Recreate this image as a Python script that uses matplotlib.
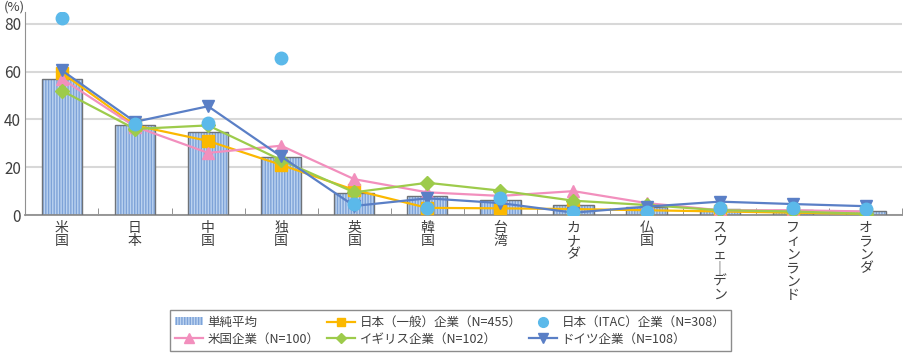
import matplotlib.pyplot as plt
import numpy as np
from matplotlib.patches import Patch
from matplotlib.lines import Line2D

plt.rcParams['font.family'] = ['Noto Sans CJK JP', 'DejaVu Sans']

# countries (drawn vertically, one character per line)
countries = ["米国", "日本", "中国", "独国", "英国", "韓国", "台湾", "カナダ", "仏国",
             "スウェーデン", "フィンランド", "オランダ"]

# simple average (bars)
avg = [57, 37.5, 34.7, 24.3, 9.2, 8.0, 6.3, 4.2, 3.3, 2.5, 2.3, 1.7]

# company surveys (%)
jp_general = [59.5, 37.5, 31, 21, 10.5, 3, 2.8, 2.5, 2, 1.5, 1, 0.5]
jp_itac = [82.5, 38, 38.5, 65.5, 4.6, 3, 7.3, 1.2, 1.2, 3, 3, 2.5]
us = [57, 37, 26, 29, 15, 9.5, 8, 10, 5, 2, 2, 1.5]
uk = [52, 36, 37.5, 23, 9.5, 13.5, 10.2, 6, 4.2, 2, 1.5, 0.5]
de = [60.5, 39, 45.5, 24.5, 3.8, 7, 5, 1, 3.5, 5.6, 4.6, 3.7]

x = np.arange(len(countries))

fig = plt.figure(figsize=(9.06, 3.59), dpi=100)
ax = fig.add_axes([0.028, 0.401, 0.968, 0.566])

# bars: hatched fill, then a grey outline on top
ax.bar(x, avg, width=0.55, color='#bcd3f0', edgecolor='#7ea3d8', hatch='||||||',
       linewidth=0, zorder=2)
ax.bar(x, avg, width=0.55, color='none', edgecolor='#6f7378', linewidth=1.0, zorder=3)

ax.plot(x, jp_general, color='#fbb800', marker='s', markersize=8, lw=1.6, zorder=4)
ax.plot(x, us, color='#f28fbd', marker='^', markersize=9, lw=1.6, zorder=4)
ax.plot(x, uk, color='#9dcb4b', marker='D', markersize=7, lw=1.6, zorder=4)
ax.plot(x, de, color='#5a7fc6', marker='v', markersize=9, lw=1.6, zorder=5)
ax.plot(x, jp_itac, color='#5bb9ea', marker='o', markersize=9, lw=0, zorder=6)

ax.set_xlim(-0.5, len(countries) - 0.5)
ax.set_ylim(0, 85)
ax.set_yticks([0, 20, 40, 60, 80])
ax.yaxis.grid(True, color='#d8d8d8', lw=1.5, zorder=0)
ax.set_axisbelow(True)
ax.tick_params(axis='y', length=0, labelsize=11, colors='#404040', pad=3)

ax.set_xticks(x)
ax.set_xticklabels(["\n".join(c.replace("ー", "｜")) for c in countries],
                   fontsize=10, color='#404040', linespacing=0.95, va='top')
ax.tick_params(axis='x', length=0, pad=4)
# small inward ticks between categories
ax.set_xticks(np.arange(len(countries)) + 0.5, minor=True)
ax.tick_params(axis='x', which='minor', direction='in', length=5, color='#808080')

for s in ['top', 'right']:
    ax.spines[s].set_visible(False)
ax.spines['left'].set_color('#909090')
ax.spines['bottom'].set_color('#909090')
ax.spines['bottom'].set_linewidth(1.3)

fig.text(0.004, 0.998, "(%)", fontsize=9.5, color='#404040', va='top')

# legend, order filled column-wise for 3 columns
h_bar = Patch(facecolor='#bcd3f0', edgecolor='#7ea3d8', hatch='||||||', lw=0)
h_jp = Line2D([], [], color='#fbb800', marker='s', markersize=6, lw=1.6)
h_itac = Line2D([], [], color='#5bb9ea', marker='o', markersize=7, lw=0)
h_us = Line2D([], [], color='#f28fbd', marker='^', markersize=7, lw=1.6)
h_uk = Line2D([], [], color='#9dcb4b', marker='D', markersize=5.5, lw=1.6)
h_de = Line2D([], [], color='#5a7fc6', marker='v', markersize=7, lw=1.6)
handles = [h_bar, h_us, h_jp, h_uk, h_itac, h_de]
labels = ["単純平均", "米国企業（N=100）", "日本（一般）企業（N=455）",
          "イギリス企業（N=102）", "日本（ITAC）企業（N=308）", "ドイツ企業（N=108）"]
leg = fig.legend(handles, labels, ncol=3, loc='center', bbox_to_anchor=(0.497, 0.079),
                 fontsize=9, frameon=True, fancybox=False, edgecolor='#707070',
                 handlelength=2.2, handleheight=0.6, columnspacing=0.6,
                 handletextpad=0.4, labelspacing=0.3, borderpad=0.45)
for t in leg.get_texts():
    t.set_color('#404040')
leg.get_frame().set_linewidth(1.0)

fig.savefig("out.png", dpi=100)
